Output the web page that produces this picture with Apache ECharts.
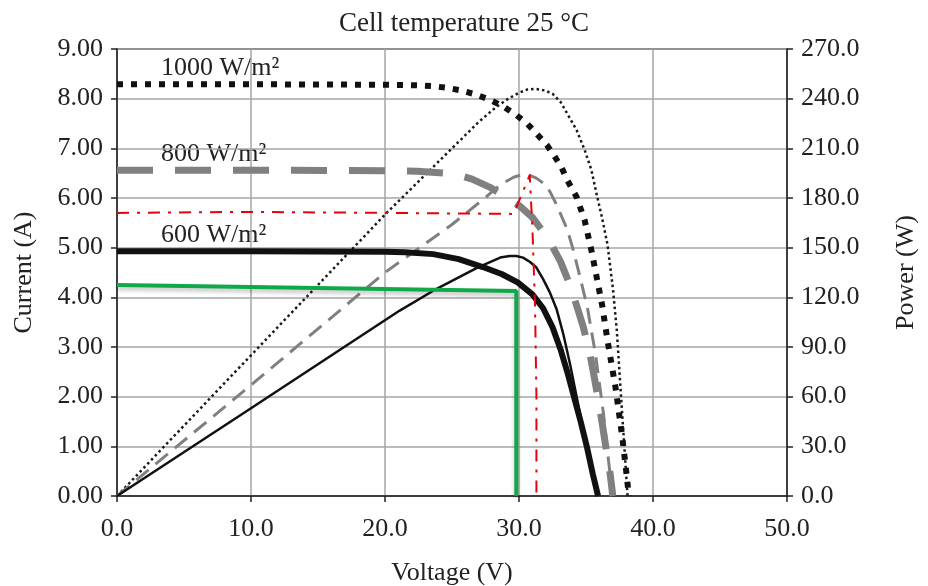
<!DOCTYPE html>
<html>
<head>
<meta charset="utf-8">
<script src="https://cdn.jsdelivr.net/npm/echarts@6/dist/echarts.min.js"></script>
<style>
html, body { margin: 0; padding: 0; background: #fff; }
#main { width: 928px; height: 586px; }
</style>
</head>
<body>
<div id="main"></div>
<script>
// voltage (V) / current (A) and voltage (V) / power (W)
const iv1000 = [[0, 8.29], [10, 8.29], [20, 8.28], [22.4, 8.27], [23.6, 8.25], [24.6, 8.22], [25.6, 8.17], [26.7, 8.09], [27.7, 7.99], [28.8, 7.85], [29.7, 7.69], [30.6, 7.5], [31.3, 7.3], [32.1, 7.06], [32.7, 6.82], [33.2, 6.6], [33.6, 6.36], [34.3, 6.02], [34.9, 5.55], [35.4, 4.95], [35.8, 4.4], [36.2, 3.85], [36.6, 3.14], [37.2, 2.19], [37.7, 1.2], [38.0, 0.5], [38.2, 0]];
const pw1000 = [[0, 0], [10, 85], [20, 170], [25, 210], [27, 226], [28.3, 235], [29.2, 240], [30, 243.5], [30.6, 245.5], [31.2, 246], [31.9, 245], [32.5, 243], [33.1, 238], [33.6, 231], [34.3, 221], [34.9, 209], [35.4, 197], [35.8, 182], [36.2, 168], [36.6, 152], [37.0, 126], [37.3, 100], [37.6, 62], [37.9, 25], [38.1, 0]];
const iv800 = [[0, 6.56], [10, 6.56], [20, 6.55], [22.4, 6.54], [24.6, 6.5], [25.6, 6.45], [26.5, 6.38], [27.8, 6.22], [28.8, 6.06], [30, 5.85], [31, 5.61], [31.8, 5.32], [32.5, 5.02], [33.1, 4.72], [33.8, 4.25], [34.4, 3.75], [34.8, 3.4], [35.3, 2.85], [35.7, 2.27], [36.1, 1.65], [36.4, 1.13], [36.8, 0.45], [37.0, 0]];
const pw800 = [[0, 0], [10, 67], [20, 135], [25, 164], [27.3, 179], [28.6, 188], [29.6, 192.5], [30.2, 194], [30.7, 194], [31.3, 192], [31.8, 189], [32.3, 184], [32.8, 176], [33.6, 161], [34.0, 150], [34.5, 134], [35.1, 114], [35.7, 86], [36.3, 50], [36.7, 20], [37.0, 0]];
const iv600 = [[0, 4.93], [10, 4.93], [20, 4.92], [21.5, 4.91], [23.6, 4.87], [25.5, 4.77], [27.3, 4.61], [28.7, 4.47], [29.9, 4.3], [31.0, 4.06], [31.8, 3.78], [32.5, 3.4], [33.1, 2.95], [33.6, 2.5], [34.1, 2.0], [34.6, 1.5], [35.1, 0.95], [35.5, 0.45], [35.9, 0]];
const pw600 = [[0, 0], [10, 53], [21.1, 112], [23.6, 124], [25.5, 132], [26.9, 138], [28.6, 144], [29.3, 145], [29.8, 145], [30.3, 144], [30.8, 141.5], [31.3, 138], [31.8, 131], [32.3, 123], [32.8, 113], [33.3, 98], [33.8, 80], [34.3, 60], [34.8, 40], [35.3, 20], [35.8, 0]];
const redLine = [[0, 5.7], [10, 5.72], [20, 5.7], [29.6, 5.68], [30.8, 6.46], [31.0, 5.4], [31.2, 3.8], [31.3, 2], [31.3, 0]];
const greenLine = [[0, 4.25], [29.8, 4.13], [29.8, 0]];

const serif = "Liberation Serif";

const myChart = echarts.init(document.getElementById("main"));

function curve(data, yIdx, color, width, type) {
    return {
        type: "line",
        yAxisIndex: yIdx,
        data: data,
        symbol: "none",
        silent: true,
        lineStyle: { color: color, width: width, type: type, cap: "butt", join: "round" },
    };
}

let option = {
    animation: false,
    title: {
        text: "Cell temperature 25 °C",
        left: "center",
        top: 5,
        textStyle: { fontFamily: serif, fontSize: 27, fontWeight: "normal", color: "#222" },
    },
    grid: {
        left: 117,
        right: 141,
        top: 49,
        bottom: 90,
        outerBoundsMode: "none",
        containLabel: false,
        show: true,
        borderColor: "#222",
        borderWidth: 1.5,
    },
    xAxis: {
        type: "value",
        min: 0,
        max: 50,
        interval: 10,
        name: "Voltage (V)",
        nameLocation: "middle",
        nameGap: 64,
        nameTextStyle: { fontFamily: serif, fontSize: 26, color: "#222" },
        axisLine: { lineStyle: { color: "#222", width: 1.5 } },
        axisTick: { show: true, length: 6, lineStyle: { color: "#222", width: 1.5 } },
        axisLabel: { fontFamily: serif, fontSize: 26, color: "#222", margin: 20, formatter: (v) => v.toFixed(1) },
        splitLine: { lineStyle: { color: "#a6a6a6", width: 1.5 } },
    },
    yAxis: [{
            type: "value",
            min: 0,
            max: 9,
            interval: 1,
            name: "Current (A)",
            nameLocation: "middle",
            nameRotate: 90,
            nameGap: 80,
            nameTextStyle: { fontFamily: serif, fontSize: 26, color: "#222" },
            axisLine: { show: true, lineStyle: { color: "#222", width: 1.5 } },
            axisTick: { show: true, length: 6, lineStyle: { color: "#222", width: 1.5 } },
            axisLabel: { fontFamily: serif, fontSize: 26, color: "#222", margin: 14, formatter: (v) => v.toFixed(2) },
            splitLine: { lineStyle: { color: "#a6a6a6", width: 1.5 } },
        },
        {
            type: "value",
            min: 0,
            max: 270,
            interval: 30,
            position: "right",
            name: "Power (W)",
            nameLocation: "middle",
            nameRotate: 90,
            nameGap: 106,
            nameTextStyle: { fontFamily: serif, fontSize: 26, color: "#222" },
            axisLine: { show: true, lineStyle: { color: "#222", width: 1.5 } },
            axisTick: { show: true, length: 6, lineStyle: { color: "#222", width: 1.5 } },
            axisLabel: { fontFamily: serif, fontSize: 26, color: "#222", margin: 14, formatter: (v) => v.toFixed(1) },
            splitLine: { show: false },
        },
    ],
    graphic: [
        { type: "text", left: 161, top: 55, style: { text: "1000 W/m²", font: "26px 'Liberation Serif'", fill: "#222" } },
        { type: "text", left: 161, top: 141, style: { text: "800 W/m²", font: "26px 'Liberation Serif'", fill: "#222" } },
        { type: "text", left: 161, top: 222, style: { text: "600 W/m²", font: "26px 'Liberation Serif'", fill: "#222" } },
    ],
    series: [
        curve(pw1000, 1, "#1a1a1a", 2.5, [2.5, 3]),
        curve(pw800, 1, "#808080", 3, [16, 9]),
        curve(pw600, 1, "#111", 2.5, "solid"),
        curve(iv1000, 0, "#111", 6, [6, 8]),
        curve(iv800, 0, "#808080", 7, [36, 22]),
        curve(iv600, 0, "#111", 6, "solid"),
        curve(redLine, 0, "#e8000b", 2, [12, 8, 3, 8]),
        {
            type: "line",
            data: greenLine,
            symbol: "none",
            silent: true,
            lineStyle: {
                color: "#10a84a",
                width: 4,
                shadowColor: "rgba(0,0,0,0.25)",
                shadowBlur: 4,
                shadowOffsetY: 3,
            },
        },
    ],
};
myChart.setOption(option);
</script>
</body>
</html>
